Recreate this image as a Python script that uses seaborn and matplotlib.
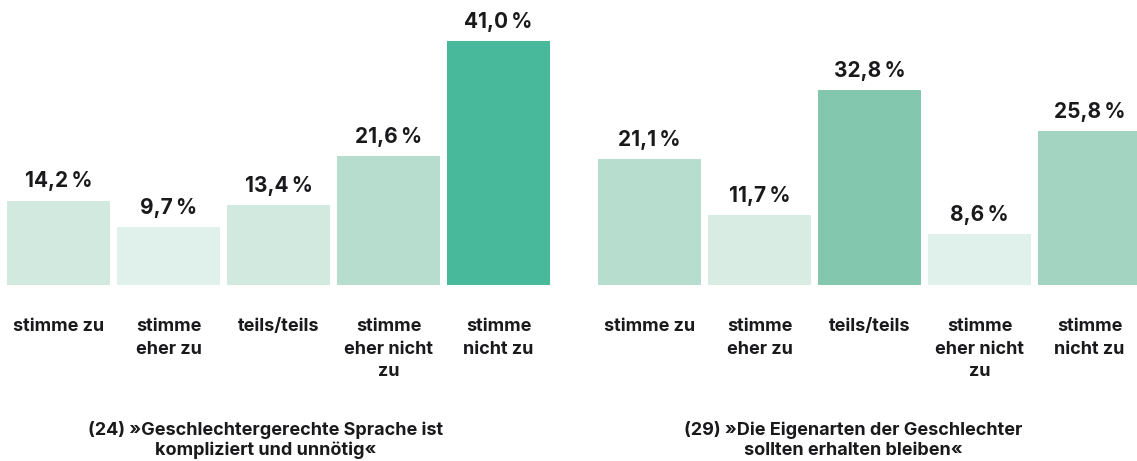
import matplotlib
matplotlib.use("Agg")
import matplotlib.pyplot as plt
import seaborn as sns

# answer categories (same for both questions)
categories = ["stimme zu", "stimme\neher zu", "teils/teils", "stimme\neher nicht\nzu", "stimme\nnicht zu"]

# shares in percent
values_24 = [14.2, 9.7, 13.4, 21.6, 41.0]
values_29 = [21.1, 11.7, 32.8, 8.6, 25.8]

title_24 = "(24) »Geschlechtergerechte Sprache ist\nkompliziert und unnötig«"
title_29 = "(29) »Die Eigenarten der Geschlechter\nsollten erhalten bleiben«"

# bar colours
colors_24 = ["#d2e9e0", "#e0f0ea", "#d2e9e0", "#b6ddce", "#49b99b"]
colors_29 = ["#b6ddce", "#d9ece4", "#83c8ae", "#e0f0ea", "#a3d4c2"]

sns.set_theme(style="white")
plt.rcParams["font.family"] = ["Inter", "DejaVu Sans"]
txt = "#1a1a1c"

fig = plt.figure(figsize=(11.37, 4.61), dpi=100)
W, H = 1137, 461
base = 285          # baseline y in px from top
px_per_pct = 5.95
ymax = 45

panels = [
    (3.5, values_24, colors_24, title_24, 266),
    (594.5, values_29, colors_29, title_29, 853),
]

for left, vals, cols, title, tx in panels:
    ax = fig.add_axes([left / W, (H - base) / H, 550 / W, ymax * px_per_pct / H])
    sns.barplot(x=categories, y=vals, hue=categories, palette=cols, legend=False,
                width=0.936, saturation=1, linewidth=0, ax=ax)
    ax.set_ylim(0, ymax)
    ax.set_xlim(-0.5, 4.5)
    for i, v in enumerate(vals):
        lab = f"{v:.1f}".replace(".", ",") + "\u2009%"
        ax.annotate(lab, (i, v), xytext=(0, 9.5), textcoords="offset points",
                    ha="center", va="baseline", fontsize=15, fontweight="bold", color=txt)
    ax.set_yticks([])
    ax.set_xlabel("")
    ax.set_ylabel("")
    ax.tick_params(axis="x", length=0, pad=24)
    for t in ax.get_xticklabels():
        t.set_fontsize(13)
        t.set_fontweight("bold")
        t.set_color(txt)
        t.set_linespacing(1.4)
    sns.despine(ax=ax, left=True, bottom=True)
    fig.text(tx / W, 1 - 440 / H, title, ha="center", va="center", fontsize=13,
             fontweight="bold", color=txt, linespacing=1.2)

fig.savefig("out.png", dpi=100, facecolor="white")
